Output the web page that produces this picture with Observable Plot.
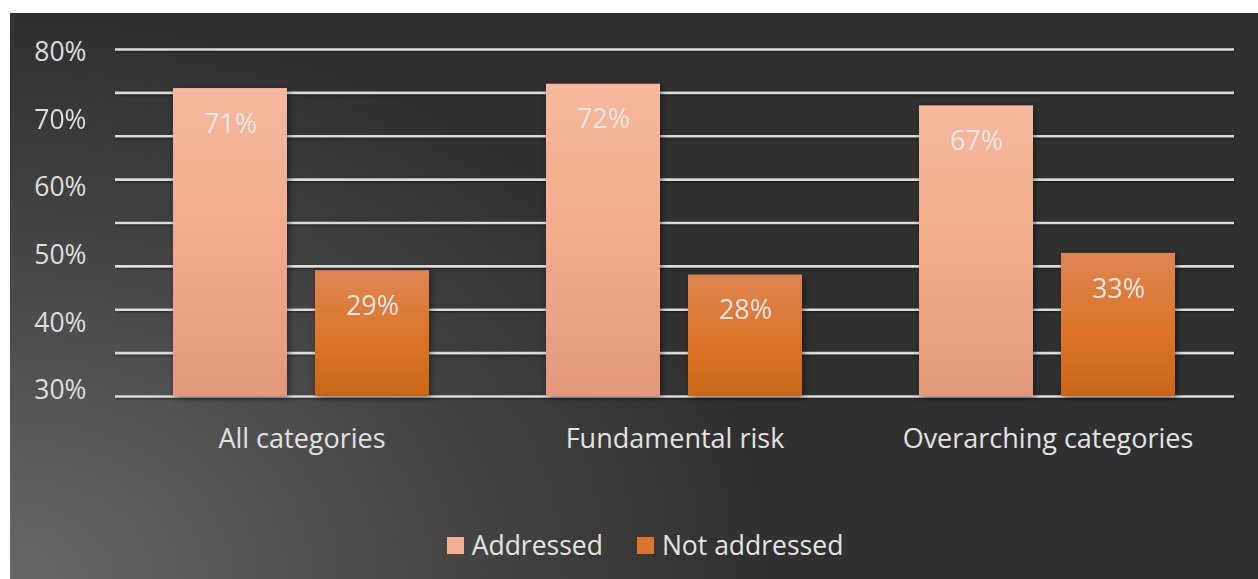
<!DOCTYPE html>
<html>
<head>
<meta charset="utf-8">
<script src="https://cdn.jsdelivr.net/npm/d3@7"></script>
<script src="https://cdn.jsdelivr.net/npm/@observablehq/plot@0.6"></script>
<style>
  html, body { margin: 0; padding: 0; background: #ffffff; overflow: hidden; }
  #panel {
    position: absolute; left: 10px; top: 13px; width: 1248px; height: 566px;
    background: radial-gradient(ellipse 760px 560px at 0% 100%, #676767 0%, #535353 35%, #3c3c3c 75%, #303030 100%);
    font-family: "Open Sans", sans-serif;
  }
  #chart svg { display: block; }
  #legend {
    position: absolute; left: 0; width: 1248px; top: 516px; height: 32px;
    display: flex; justify-content: center; align-items: center; gap: 34px;
    padding-left: 22px; box-sizing: border-box;
    font-size: 26.5px; color: #e4e4e4; line-height: 32px;
  }
  .item { display: flex; align-items: center; gap: 8px; }
  .sw { width: 17px; height: 17px; display: inline-block; }
</style>
</head>
<body>
<div id="panel">
  <div id="chart"></div>
  <div id="legend"></div>
</div>
<script>
// ---- data ----
const categories = ["All categories", "Fundamental risk", "Overarching categories"];
const seriesNames = ["Addressed", "Not addressed"];
const addressed = [71, 72, 67];
const notAddressed = [29, 28, 33];
const yTickLabels = ["30%", "40%", "50%", "60%", "70%", "80%"];
const gridValues = [0, 10, 20, 30, 40, 50, 60, 70, 80];

// ---- table ----
const rows = [];
categories.forEach((c, i) => {
  rows.push({category: c, series: seriesNames[0], value: addressed[i]});
  rows.push({category: c, series: seriesNames[1], value: notAddressed[i]});
});

// the original axis labels are spread evenly along the axis (not at grid lines)
const yTicks = yTickLabels.map((label, i) => ({label, pos: 1.3 + i * 15.6}));
const labelAt = new Map(yTicks.map(d => [d.pos, d.label]));

const gradIds = {"Addressed": "gradA", "Not addressed": "gradN"};

const plot = Plot.plot({
  width: 1248,
  height: 470,
  marginLeft: 104,
  marginRight: 23,
  marginTop: 36,
  marginBottom: 87,
  style: {background: "transparent", color: "#dedede", fontFamily: "Open Sans, sans-serif", overflow: "visible"},
  fx: {domain: categories, padding: 0, axis: null, label: null},
  x: {domain: seriesNames, paddingInner: 0.196, paddingOuter: 0.405, axis: null, label: null},
  y: {domain: [0, 80], axis: null, label: null},
  color: {domain: seriesNames, range: seriesNames.map(s => `url(#${gradIds[s]})`)},
  marks: [
    Plot.ruleY(gridValues, {stroke: "#dcdcdc", strokeWidth: 2.6}),
    Plot.barY(rows, {fx: "category", x: "series", y: "value", fill: "series"}),
    Plot.text(rows, {
      fx: "category", x: "series", y: "value",
      text: d => d.value + "%", lineAnchor: "top", dy: 25,
      fill: "#e8e8e8", fontSize: 27
    }),
    Plot.axisY(yTicks.map(d => d.pos), {
      tickSize: 0, tickPadding: 29, fontSize: 26.5, label: null,
      tickFormat: d => labelAt.get(d), fill: "#dedede"
    }),
    Plot.axisFx({anchor: "bottom", tickSize: 0, tickPadding: 32, fontSize: 27, fill: "#e2e2e2", label: null})
  ]
});

// gradients for the bars
const svg = d3.select(plot);
const defs = svg.insert("defs", ":first-child");
const stops = {
  gradA: [["0%", "#f5b99e"], ["50%", "#f2aa8b"], ["100%", "#e3987c"]],
  gradN: [["0%", "#dd8553"], ["55%", "#db7427"], ["100%", "#cb6619"]]
};
for (const [id, s] of Object.entries(stops)) {
  const g = defs.append("linearGradient").attr("id", id).attr("x1", 0).attr("y1", 0).attr("x2", 0).attr("y2", 1);
  s.forEach(([o, c]) => g.append("stop").attr("offset", o).attr("stop-color", c));
}
svg.selectAll('g[aria-label="bar"]').style("filter", "drop-shadow(2px 2px 3px rgba(0,0,0,0.45))");
svg.selectAll('g[aria-label="rule"]').style("filter", "drop-shadow(1px 1px 1px rgba(0,0,0,0.5))");

document.getElementById("chart").appendChild(plot);

// legend
const swatchColors = {"Addressed": "#f3b194", "Not addressed": "#d9752c"};
const legend = d3.select("#legend");
seriesNames.forEach(s => {
  const item = legend.append("div").attr("class", "item");
  item.append("span").attr("class", "sw").style("background", swatchColors[s]);
  item.append("span").text(s);
});
</script>
</body>
</html>
